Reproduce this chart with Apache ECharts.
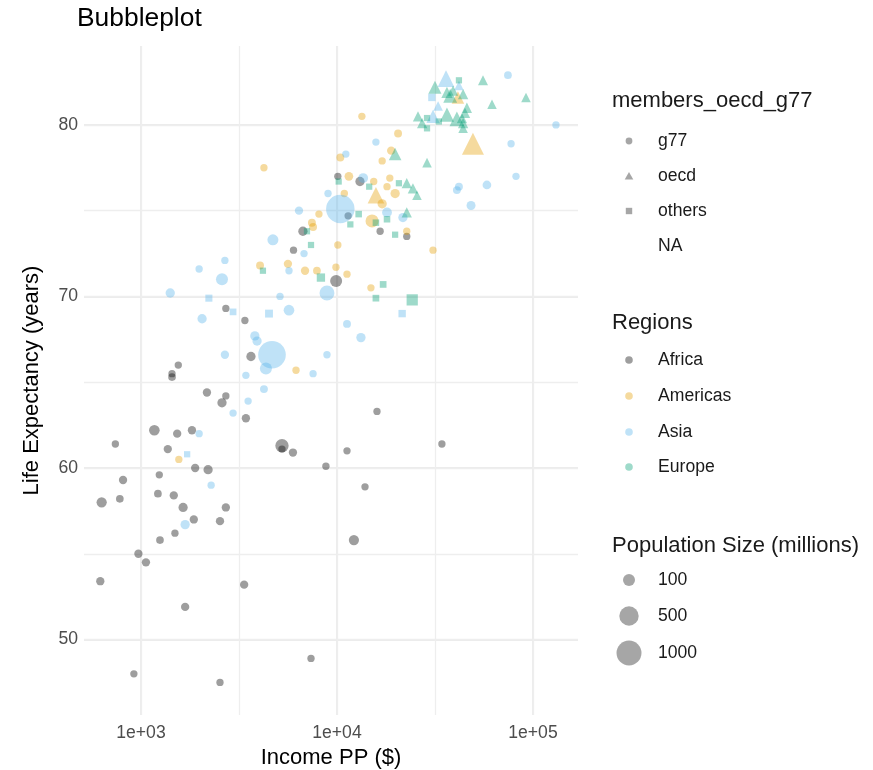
<!DOCTYPE html>
<html><head><meta charset="utf-8">
<script src="https://cdn.jsdelivr.net/npm/echarts@6/dist/echarts.min.js"></script>
<style>html,body{margin:0;padding:0;background:#fff}#c{width:873px;height:770px}</style>
</head><body><div id="c"></div>
<script>
// each row: [income per person ($), life expectancy (years), population (millions), membership]
const africa = [
[10100,77.0,5,'g77'],[13100,76.7,30,'g77'],[11400,74.7,5,'g77'],[16600,73.8,5,'g77'],[22700,73.5,5,'g77'],
[6700,73.8,30,'g77'],[6000,72.7,5,'g77'],[9900,70.9,100,'g77'],[2710,69.3,5,'g77'],[3390,68.6,5,'g77'],
[3640,66.5,30,'g77'],[1550,66.0,5,'g77'],[1440,65.5,5,'g77'],[1440,65.3,8,'g77'],[2170,64.4,15,'g77'],
[2710,64.2,5,'g77'],[2590,63.8,30,'g77'],[3430,62.9,15,'g77'],[1170,62.2,60,'g77'],[1530,62.0,15,'g77'],
[1820,62.2,15,'g77'],[740,61.4,5,'g77'],[1370,61.1,15,'g77'],[5240,61.3,150,'g77'],[5240,61.1,5,'g77'],
[5960,60.9,15,'g77'],[1890,60.0,15,'g77'],[2200,59.9,30,'g77'],[8780,60.1,5,'g77'],[810,59.3,15,'g77'],
[1240,59.6,5,'g77'],[630,58.0,50,'g77'],[780,58.2,8,'g77'],[1220,58.5,8,'g77'],[1470,58.4,15,'g77'],
[1640,57.7,30,'g77'],[2710,57.7,15,'g77'],[1860,57.0,15,'g77'],[2530,56.9,15,'g77'],[1490,56.2,5,'g77'],
[1250,55.8,8,'g77'],[970,55.0,15,'g77'],[1060,54.5,15,'g77'],[620,53.4,15,'g77'],[3360,53.2,15,'g77'],
[1680,51.9,15,'g77'],[7370,48.9,5,'g77'],[920,48.0,5,'g77'],[2530,47.5,5,'g77'],[11250,61.0,5,'g77'],
[34300,61.4,5,'g77'],[13900,58.9,5,'g77'],[12200,55.8,50,'g77'],[16000,63.3,5,'g77']
];
const americas = [
[4240,77.5,5,'g77'],[8090,74.8,5,'g77'],[7450,74.3,10,'g77'],[7550,74.05,10,'g77'],[13400,80.5,5,'g77'],
[20500,79.5,10,'g77'],[18900,78.5,15,'g77'],[10400,78.1,10,'g77'],[17000,77.9,5,'g77'],[11500,77.0,20,'g77'],
[18600,76.9,5,'g77'],[15400,76.7,5,'g77'],[18000,76.4,5,'g77'],[19800,76.0,30,'g77'],[10900,76.0,5,'g77'],
[17000,75.4,30,'g77'],[15100,74.4,140,'g77'],[22700,73.8,5,'g77'],[10100,73.0,5,'g77'],[30900,72.7,5,'g77'],
[4050,71.8,10,'g77'],[5620,71.9,15,'g77'],[6870,71.5,15,'g77'],[7900,71.5,8,'g77'],[9880,71.7,5,'g77'],
[11250,71.3,5,'g77'],[14900,70.5,5,'g77'],[6180,65.7,5,'g77'],[1560,60.5,5,'g77'],
[15800,75.9,128,'oecd'],[41400,81.6,37,'oecd'],[49400,78.9,330,'oecd']
];
const asia = [
[9000,76.0,5,'g77'],[6400,75.0,15,'g77'],[4710,73.3,70,'g77'],[6790,72.5,5,'g77'],[2680,72.1,5,'g77'],
[1980,71.6,5,'g77'],[5690,71.5,5,'g77'],[2590,71.0,100,'g77'],[8890,70.2,220,'g77'],[1410,70.2,30,'g77'],
[2050,68.7,30,'g77'],[5120,70.0,5,'g77'],[5690,69.2,60,'g77'],[3810,67.7,30,'g77'],[3910,67.4,30,'g77'],
[4660,66.6,1300,'g77'],[4340,65.8,100,'g77'],[2680,66.6,15,'g77'],[8890,66.6,5,'g77'],[7550,65.5,5,'g77'],
[3430,65.4,5,'g77'],[4240,64.6,10,'g77'],[3520,63.9,5,'g77'],[2950,63.2,5,'g77'],[1980,62.0,5,'g77'],
[2280,59.0,5,'g77'],[1680,56.7,30,'g77'],[15800,79.0,5,'g77'],[11100,78.3,5,'g77'],[13600,76.9,40,'g77'],
[10400,75.1,1400,'g77'],[18000,74.9,40,'g77'],[21700,74.6,30,'g77'],[11250,68.4,10,'g77'],[13250,67.6,30,'g77'],
[74500,82.9,8,'g77'],[131000,80.0,5,'g77'],[77300,78.9,5,'g77'],[81900,77.0,5,'g77'],[41900,76.4,10,'g77'],
[40900,76.2,10,'g77'],[58200,76.5,20,'g77'],[48300,75.3,25,'g77'],
[30500,81.6,20,'others'],[2220,69.9,15,'others'],[2950,69.1,10,'others'],[4500,69.0,30,'others'],
[21500,69.0,20,'others'],[1720,60.8,5,'others'],
[36000,82.7,127,'oecd'],[41900,82.3,5,'oecd'],[32800,81.1,5,'oecd'],[30900,80.5,50,'oecd']
];
const europe = [
[19800,78.3,38,'oecd'],[28800,77.8,5,'oecd'],[22700,76.6,10,'oecd'],[24400,76.3,10,'oecd'],[25600,75.9,5,'oecd'],
[22700,74.9,10,'oecd'],[55600,82.6,8,'oecd'],[31600,82.2,45,'oecd'],[36400,81.9,20,'oecd'],[39100,82.0,10,'oecd'],
[37800,81.7,60,'oecd'],[44000,81.8,10,'oecd'],[61800,81.2,5,'oecd'],[92100,81.6,5,'oecd'],[46000,81.0,10,'oecd'],
[45000,80.7,10,'oecd'],[25900,80.5,10,'oecd'],[36400,80.6,65,'oecd'],[40900,80.35,80,'oecd'],[43400,80.4,10,'oecd'],
[44000,80.1,10,'oecd'],[27200,80.1,10,'oecd'],[44000,79.8,5,'oecd'],
[41900,82.6,5,'others'],[28800,80.4,5,'others'],[33100,80.2,5,'others'],[28800,79.8,5,'others'],
[10200,76.7,5,'others'],[14600,76.4,5,'others'],[20700,76.6,5,'others'],[12900,74.8,8,'others'],
[15800,74.3,8,'others'],[18000,74.5,8,'others'],[11700,74.2,5,'others'],[19800,73.6,5,'others'],
[7370,73.0,5,'others'],[4190,71.5,5,'others'],[8280,71.1,40,'others'],[17200,70.7,10,'others'],
[15800,69.9,10,'others'],[24200,69.8,145,'others'],[7030,73.8,5,'others']
];
const regionNames = ['Africa','Americas','Asia','Europe'];
const memberNames = ['g77','oecd','others','NA'];
const popLegend = [100,500,1000];
const xRange = [512, 169700];
const yRange = [45.6, 84.6];

const FONT = '"Liberation Sans", Arial, Helvetica, sans-serif';
const regionData = [africa, americas, asia, europe];
const regionColors = ['#000000','#E69F00','#56B4E9','#009E73'];
const ALPHA = 0.38;
const shapeOf = {g77:'circle', oecd:'triangle', others:'rect'};
const shapeScale = {g77:1, oecd:1.3, others:0.85};
function diam(pop){ return 6 + 0.6*Math.sqrt(pop); }

const series = regionData.map((rows, i) => ({
  type:'scatter', name: regionNames[i], xAxisIndex:0, yAxisIndex:0,
  itemStyle:{color: regionColors[i], opacity: ALPHA},
  emphasis:{disabled:true}, z: 3,
  data: rows.map(r => ({
    value:[r[0], r[1], r[2]],
    symbol: shapeOf[r[3]],
    symbolSize: diam(r[2]) * shapeScale[r[3]]
  }))
}));

function txt(x, y, s, size){
  return {type:'text', x:x, y:y, silent:true,
    style:{text:s, fill:'#1a1a1a', font: size+'px ' + FONT, verticalAlign:'middle', align:'left'}};
}
const graphics = [];
const SX = 629, TX = 658;
const TITLE_FS = 22, LABEL_FS = 17.6;
graphics.push(txt(612, 101, 'members_oecd_g77', TITLE_FS));
const shapeY = [141,176,211,246];
memberNames.forEach((m, i) => {
  graphics.push(txt(TX, shapeY[i], m, LABEL_FS));
  const c = 'rgba(0,0,0,0.35)';
  if (m === 'g77') graphics.push({type:'circle', shape:{cx:SX, cy:shapeY[i], r:3.4}, style:{fill:c}});
  if (m === 'oecd') graphics.push({type:'polygon', shape:{points:[[SX-4.3,shapeY[i]+3.4],[SX+4.3,shapeY[i]+3.4],[SX,shapeY[i]-4]]}, style:{fill:c}});
  if (m === 'others') graphics.push({type:'rect', shape:{x:SX-3.2, y:shapeY[i]-3.2, width:6.4, height:6.4}, style:{fill:c}});
});
graphics.push(txt(612, 323, 'Regions', TITLE_FS));
const regY = [360,396,432,467];
regionNames.forEach((r, i) => {
  graphics.push(txt(TX, regY[i], r, LABEL_FS));
  graphics.push({type:'circle', shape:{cx:SX, cy:regY[i], r:3.8}, style:{fill:regionColors[i], opacity:ALPHA}});
});
graphics.push(txt(612, 546, 'Population Size (millions)', TITLE_FS));
const popY = [580,616,653];
popLegend.forEach((p, i) => {
  graphics.push(txt(TX, popY[i], String(p), LABEL_FS));
  graphics.push({type:'circle', shape:{cx:SX, cy:popY[i], r:diam(p)/2}, style:{fill:'#000', opacity:0.35}});
});

const gridLine = {color:'#ebebeb', width:1.8};
const minorLine = {color:'#eeeeee', width:1.3};
const chart = echarts.init(document.getElementById('c'), null, {renderer:'canvas'});
chart.setOption({
  animation:false,
  backgroundColor:'#fff',
  title:{text:'Bubbleplot', left:77, top:6, padding:0,
    textStyle:{fontSize:26.4, fontWeight:'normal', color:'#000', fontFamily:FONT}},
  grid:{left:84, right:295, top:46, bottom:55, containLabel:false, outerBoundsMode:'none'},
  xAxis:[{
    type:'log', logBase:10, min:xRange[0], max:xRange[1], position:'bottom',
    axisLine:{show:false}, axisTick:{show:false},
    axisLabel:{color:'#4d4d4d', fontSize:17.6, margin:9, fontFamily:FONT,
      formatter:v => { const e = Math.log10(v); return Math.abs(e - Math.round(e)) < 1e-6 ? '1e+0' + Math.round(e) : ''; }},
    splitLine:{show:true, showMinLine:false, showMaxLine:false, lineStyle:gridLine},
    name:'Income PP ($)', nameLocation:'middle', nameGap:29,
    nameTextStyle:{fontSize:22, color:'#000', fontFamily:FONT}
  },{
    type:'value', min:Math.log10(xRange[0]), max:Math.log10(xRange[1]), position:'top', splitNumber:5,
    axisLine:{show:false}, axisTick:{show:false}, axisLabel:{show:false},
    splitLine:{show:true, showMinLine:false, showMaxLine:false, lineStyle:minorLine}
  }],
  yAxis:[{
    type:'value', min:yRange[0], max:yRange[1], splitNumber:4, position:'left',
    axisLine:{show:false}, axisTick:{show:false},
    axisLabel:{color:'#4d4d4d', fontSize:17.6, margin:6, fontFamily:FONT,
      formatter:v => (Math.abs(v % 10) < 1e-6 ? String(v) : '')},
    splitLine:{show:true, showMinLine:false, showMaxLine:false, lineStyle:gridLine},
    name:'Life Expectancy (years)', nameLocation:'middle', nameRotate:90, nameGap:41,
    nameTextStyle:{fontSize:22, color:'#000', fontFamily:FONT}
  },{
    type:'value', min:yRange[0], max:yRange[1], splitNumber:8, position:'right',
    axisLine:{show:false}, axisTick:{show:false}, axisLabel:{show:false},
    splitLine:{show:true, showMinLine:false, showMaxLine:false, lineStyle:minorLine}
  }],
  series: series,
  graphic: graphics
});
</script>
</body></html>
